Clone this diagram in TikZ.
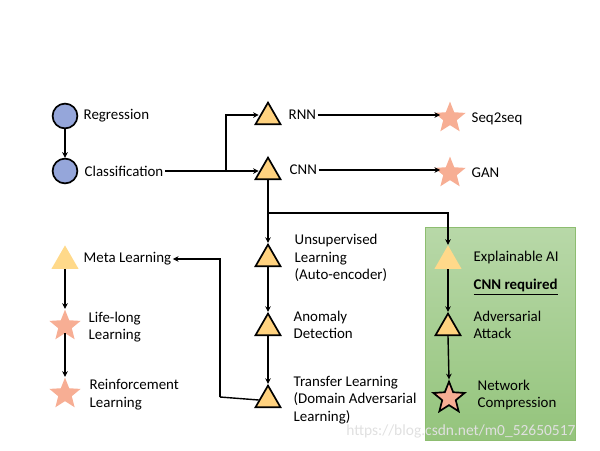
\documentclass[tikz,border=0pt]{standalone}
\usepackage{fontspec}
\setmainfont{Carlito}
\usetikzlibrary{shapes.geometric,arrows.meta}
\definecolor{circfill}{HTML}{95A6DA}
\definecolor{trifill}{HTML}{FFD27F}
\definecolor{trilight}{HTML}{FFD98A}
\definecolor{starfill}{HTML}{F7AE94}
\definecolor{boxtop}{HTML}{B8D8A8}
\definecolor{boxbot}{HTML}{94C47C}
\definecolor{boxline}{HTML}{8DBD70}
\tikzset{
  circ/.style={circle,draw=black,line width=1.2pt,fill=circfill,minimum size=0.62cm,inner sep=0pt},
  tri/.style={regular polygon,regular polygon sides=3,draw=black,line width=1.2pt,fill=trifill,minimum size=0.72cm,inner sep=0pt},
  trilt/.style={regular polygon,regular polygon sides=3,fill=trilight,minimum size=0.78cm,inner sep=0pt},
  starn/.style={star,star points=5,star point ratio=2.3,fill=starfill,minimum size=0.82cm,inner sep=0pt},
  starb/.style={star,star points=5,star point ratio=2.3,fill=starfill,draw=black,line width=1.2pt,minimum size=0.82cm,inner sep=0pt},
  lbl/.style={anchor=west,inner sep=1pt,align=left,font=\fontsize{10.6}{12.6}\selectfont},
  conn/.style={line width=1pt},
  arr/.style={line width=1pt,-{Stealth[length=4pt,width=4pt]}}
}
\begin{document}
\begin{tikzpicture}[x=0.025cm,y=-0.025cm]
\useasboundingbox (0,0) rectangle (600,450);
% green box
\draw[boxline,top color=boxtop,bottom color=boxbot] (425,227) rectangle (575,440);
% left column
\node[circ] (reg) at (65,116) {};
\node[lbl] (regl) at (82,116) {Regression};
\node[circ] (cls) at (65,171) {};
\node[lbl] (clsl) at (83,171) {Classification};
% RNN / CNN
\node[tri] (rnn) at (268,117) {};
\node[lbl] (rnnl) at (287,115) {RNN};
\node[tri] (cnn) at (268,172) {};
\node[lbl] (cnnl) at (288,170) {CNN};
\node[starn] (s2s) at (450,118) {};
\node[lbl] (s2sl) at (470,119) {Seq2seq};
\node[starn] (gan) at (450,173) {};
\node[lbl] (ganl) at (470,173) {GAN};
% middle column
\node[tri] (uns) at (268,259) {};
\node[lbl] (unsl) at (293,258) {Unsupervised\\Learning\\(Auto-encoder)};
\node[tri] (ano) at (268,328) {};
\node[lbl] (anol) at (292,325) {Anomaly\\Detection};
\node[tri] (trf) at (268,400) {};
\node[lbl] (trfl) at (292,400) {Transfer Learning\\(Domain Adversarial\\Learning)};
% left lower column
\node[trilt] (meta) at (65,261) {};
\node[lbl] (metal) at (82,259) {Meta Learning};
\node[starn] (life) at (65,326) {};
\node[lbl] (lifel) at (87,327) {Life-long\\Learning};
\node[starn] (rl) at (65,394) {};
\node[lbl] (rll) at (88,395) {Reinforcement\\Learning};
% green box content
\node[trilt] (xai) at (448,261) {};
\node[lbl] (xail) at (472,258) {Explainable AI};
\node[lbl] (cnnr) at (472,287) {\textbf{\underline{CNN required}}};
\node[tri] (adv) at (448,328) {};
\node[lbl] (advl) at (472,325) {Adversarial\\Attack};
\node[starb] (nc) at (449,398) {};
\node[lbl] (ncl) at (476,395) {Network\\Compression};
% watermark
\node[anchor=west,inner sep=0pt,text=black!12,font=\fontsize{11}{12}\selectfont] (wm) at (346,431) {https://blog.csdn.net/m0\_52650517};
% connectors
\coordinate (br) at (226,171);
\coordinate (j1) at (268,213);
\coordinate (j2) at (220,397);
\draw[arr] (reg) -- (cls);
\draw[arr] (clsl.east) -- (cnn.west |- clsl.east);
\draw[arr] (br) |- (rnn.west |- rnnl.west);
\draw[arr] (rnnl.east) -- (s2s.west |- rnnl.east);
\draw[arr] (cnnl.east) -- (gan.west |- cnnl.east);
\draw[conn] (cnn.south) -- (j1);
\draw[arr] (j1) -- (uns.north);
\draw[arr] (j1) -| (xai.north);
\draw[arr] (uns.south) -- (ano.north);
\draw[arr] (ano.south) -- (trf.north);
\draw[conn] (trf.west |- trfl.west) -- (j2);
\draw[arr] (j2) |- (metal.east);
\draw[arr] (meta.south) -- (life.north);
\draw[arr] (life.south) -- (rl.north);
\draw[arr] (xai.south) -- (adv.north);
\draw[arr] (adv.south) -- (nc.north);
\end{tikzpicture}
\end{document}
